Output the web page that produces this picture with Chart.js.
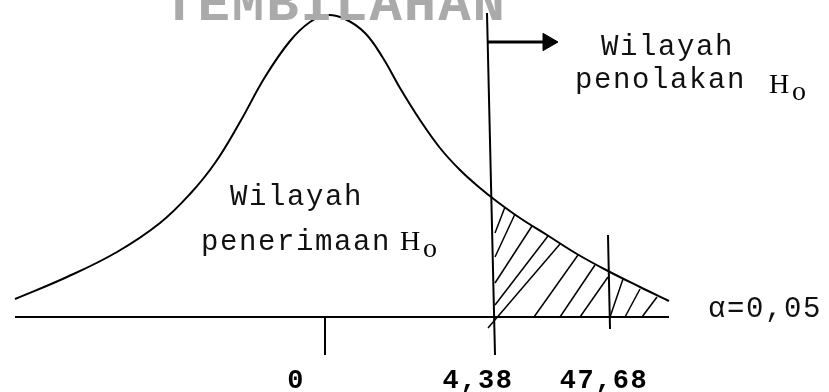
<!DOCTYPE html>
<html>
<head>
<meta charset="utf-8">
<script src="https://cdn.jsdelivr.net/npm/chart.js@4"></script>
<style>
  body { margin: 0; background: #fff; }
  canvas { display: block; }
</style>
</head>
<body>
<canvas id="chart" width="829" height="392"></canvas>
<script>
// curve (x in arbitrary units, 0 at the "0" tick; y = height above axis)
const curveX = [-3.10, -2.58, -2.08, -1.65, -1.35, -1.10, -0.85, -0.60, -0.35, -0.15, 0.02,
                0.20, 0.40, 0.58, 0.75, 0.95, 1.15, 1.35, 1.55, 1.70, 1.95, 2.22, 2.52, 2.83, 3.15, 3.44];
const curveY = [0.18, 0.40, 0.65, 0.94, 1.23, 1.54, 1.95, 2.40, 2.76, 2.95, 3.02,
                2.98, 2.84, 2.59, 2.29, 1.97, 1.69, 1.47, 1.29, 1.17, 0.99, 0.82, 0.63, 0.46, 0.30, 0.16];

// hatch strokes in the rejection region: [x1, y1, x2, y2]
const hatchLines = [
  [1.70, 0.84, 1.80, 1.10],
  [1.70, 0.60, 1.90, 1.03],
  [1.70, 0.34, 2.07, 0.91],
  [1.70, 0.12, 2.23, 0.81],
  [1.63, -0.11, 2.35, 0.73],
  [2.09, 0.00, 2.53, 0.62],
  [2.35, 0.00, 2.70, 0.52],
  [2.55, 0.00, 2.83, 0.40],
  [2.85, 0.00, 2.98, 0.38],
  [3.00, 0.00, 3.15, 0.28],
  [3.17, 0.00, 3.32, 0.20]
];

// straight strokes: axis, zero tick, critical lines, arrow shaft
const axisLine = [-3.10, 0, 3.44, 0];
const zeroTick = [0.00, 0, 0.00, -0.38];
const critLine = [1.62, 3.04, 1.70, -0.38];
const tableLine = [2.83, 0.82, 2.85, -0.12];
const arrowLine = [1.63, 2.75, 2.23, 2.75];

const tickLabels = ['0', '4,38', '47,68'];
const tickLabelX = [-0.29, 1.53, 2.79];

const seg = (s, w) => ({
  data: [{x: s[0], y: s[1]}, {x: s[2], y: s[3]}],
  borderColor: '#000',
  borderWidth: w,
  pointRadius: 0,
  tension: 0
});

const datasets = [];
datasets.push({
  data: curveX.map((x, i) => ({x: x, y: curveY[i]})),
  borderColor: '#000',
  borderWidth: 2,
  pointRadius: 0,
  tension: 0.4
});
datasets.push(seg(axisLine, 2));
datasets.push(seg(zeroTick, 2));
datasets.push(seg(critLine, 2));
datasets.push(seg(tableLine, 2));
hatchLines.forEach(h => datasets.push(seg(h, 1.5)));
const arrow = seg(arrowLine, 3);
arrow.pointRadius = [0, 10];
arrow.pointStyle = 'triangle';
arrow.rotation = 90;
arrow.pointBackgroundColor = '#000';
arrow.pointBorderColor = '#000';
arrow.pointBorderWidth = 1;
datasets.push(arrow);

const textPlugin = {
  id: 'texts',
  afterDraw(chart) {
    const ctx = chart.ctx;
    const xs = chart.scales.x, ys = chart.scales.y;
    const X = v => xs.getPixelForValue(v), Y = v => ys.getPixelForValue(v);
    ctx.save();
    ctx.textBaseline = 'alphabetic';

    // watermark, cut off at the top
    ctx.font = 'bold 54px "Liberation Mono"';
    ctx.letterSpacing = '2px';
    ctx.fillStyle = '#aaaaaa';
    ctx.textAlign = 'center';
    ctx.fillText('TEMBILAHAN', X(0.10), Y(2.97));

    ctx.fillStyle = '#111';
    ctx.textAlign = 'left';
    ctx.font = '29px "Liberation Mono"';
    ctx.letterSpacing = '1.6px';
    ctx.fillText('Wilayah', X(2.76), Y(2.62));
    ctx.fillText('penolakan', X(2.50), Y(2.29));
    ctx.fillText('Wilayah', X(-0.95), Y(1.12));
    ctx.fillText('penerimaan', X(-1.24), Y(0.67));
    ctx.fillText('\u03b1=0,05', X(3.83), Y(0.00));

    ctx.fillStyle = '#000';
    ctx.letterSpacing = '0px';
    ctx.font = '28px "Liberation Serif"';
    ctx.fillText('H', X(4.44), Y(2.24));
    ctx.fillText('o', X(4.67), Y(2.17));
    ctx.fillText('H', X(0.75), Y(0.67));
    ctx.fillText('o', X(0.98), Y(0.60));

    ctx.font = 'bold 27px "Liberation Mono"';
    ctx.letterSpacing = '1.5px';
    ctx.textAlign = 'center';
    tickLabels.forEach((t, i) => ctx.fillText(t, X(tickLabelX[i]), Y(-0.71)));
    ctx.restore();
  }
};

new Chart(document.getElementById('chart'), {
  type: 'line',
  data: {datasets: datasets},
  options: {
    responsive: false,
    animation: false,
    devicePixelRatio: 1,
    layout: {padding: 0, autoPadding: false},
    plugins: {legend: {display: false}, tooltip: {enabled: false}},
    scales: {
      x: {type: 'linear', min: -3.25, max: 5.04, display: false},
      y: {type: 'linear', min: -0.75, max: 3.17, display: false}
    }
  },
  plugins: [textPlugin]
});
</script>
</body>
</html>
